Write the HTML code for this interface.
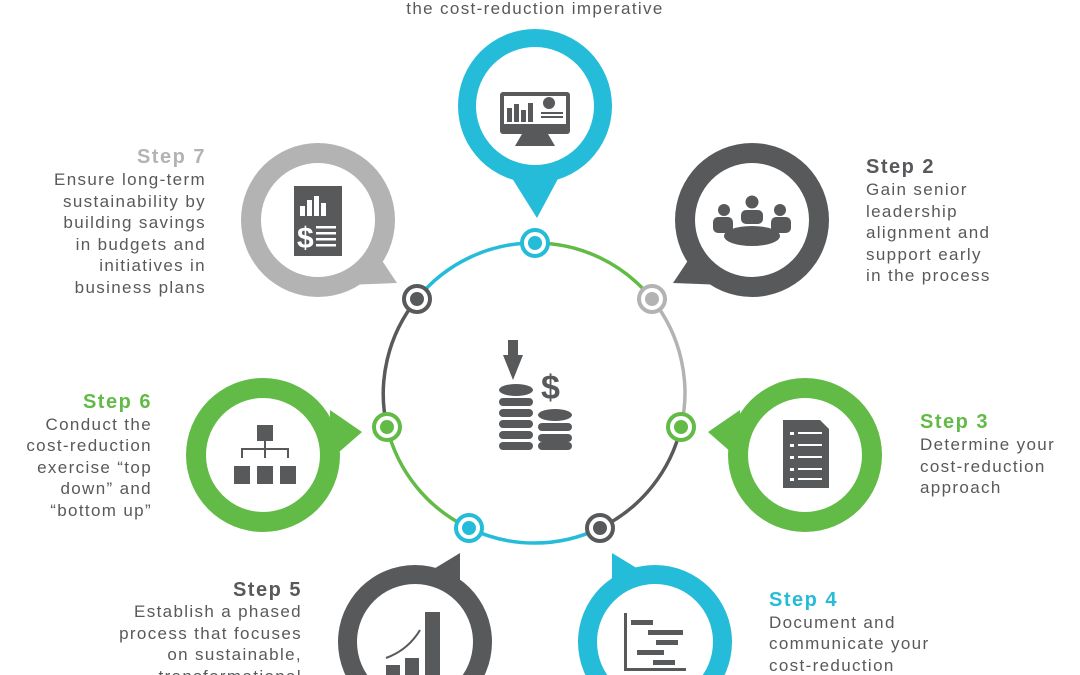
<!DOCTYPE html>
<html><head><meta charset="utf-8"><style>
html,body{margin:0;background:#fff;width:1080px;height:675px;overflow:hidden;}
svg{display:block}
text{font-family:"Liberation Sans",sans-serif;font-size:17px;fill:#58595b;letter-spacing:1.35px}
.b{font-weight:bold;font-size:20px;letter-spacing:1.5px}
</style></head><body>
<svg width="1080" height="675" viewBox="0 0 1080 675" overflow="hidden">
<g fill="none" stroke-width="3.5">
<path d="M535 243 A150 150 0 0 1 652 299" stroke="#62bb46"/>
<path d="M652 299 A150 150 0 0 1 681 427" stroke="#b3b3b3"/>
<path d="M681 427 A150 150 0 0 1 600 528" stroke="#58595b"/>
<path d="M600 528 A150 150 0 0 1 469 528" stroke="#25bcd9"/>
<path d="M469 528 A150 150 0 0 1 387 427" stroke="#62bb46"/>
<path d="M387 427 A150 150 0 0 1 417 299" stroke="#58595b"/>
<path d="M417 299 A150 150 0 0 1 535 243" stroke="#25bcd9"/>
</g>
<g stroke-width="4" fill="#fff">
<circle cx="535" cy="243" r="13" stroke="#25bcd9"/><circle cx="535" cy="243" r="7" fill="#25bcd9" stroke="none"/>
<circle cx="652" cy="299" r="13" stroke="#b3b3b3"/><circle cx="652" cy="299" r="7" fill="#b3b3b3" stroke="none"/>
<circle cx="681" cy="427" r="13" stroke="#62bb46"/><circle cx="681" cy="427" r="7" fill="#62bb46" stroke="none"/>
<circle cx="600" cy="528" r="13" stroke="#58595b"/><circle cx="600" cy="528" r="7" fill="#58595b" stroke="none"/>
<circle cx="469" cy="528" r="13" stroke="#25bcd9"/><circle cx="469" cy="528" r="7" fill="#25bcd9" stroke="none"/>
<circle cx="387" cy="427" r="13" stroke="#62bb46"/><circle cx="387" cy="427" r="7" fill="#62bb46" stroke="none"/>
<circle cx="417" cy="299" r="13" stroke="#58595b"/><circle cx="417" cy="299" r="7" fill="#58595b" stroke="none"/>
</g>
<g>
<polygon points="510,175 560,175 537,218" fill="#25bcd9"/>
<circle cx="535" cy="106" r="77" fill="#25bcd9"/><circle cx="535" cy="106" r="59" fill="#fff"/>
<polygon points="695,250 725,285 673,283" fill="#58595b"/>
<circle cx="752" cy="220" r="77" fill="#58595b"/><circle cx="752" cy="220" r="57" fill="#fff"/>
<polygon points="375,250 345,285 397,283" fill="#b3b3b3"/>
<circle cx="318" cy="220" r="77" fill="#b3b3b3"/><circle cx="318" cy="220" r="57" fill="#fff"/>
<polygon points="740,410 740,460 708,432" fill="#62bb46"/>
<circle cx="805" cy="455" r="77" fill="#62bb46"/><circle cx="805" cy="455" r="57" fill="#fff"/>
<polygon points="330,410 330,460 362,432" fill="#62bb46"/>
<circle cx="263" cy="455" r="77" fill="#62bb46"/><circle cx="263" cy="455" r="57" fill="#fff"/>
<polygon points="612,553 640,570 612,590" fill="#25bcd9"/>
<circle cx="655" cy="642" r="77" fill="#25bcd9"/><circle cx="655" cy="642" r="58" fill="#fff"/>
<polygon points="460,553 432,570 460,590" fill="#58595b"/>
<circle cx="415" cy="642" r="77" fill="#58595b"/><circle cx="415" cy="642" r="58" fill="#fff"/>
</g>
<g fill="#58595b">
<rect x="500" y="92" width="70" height="42" rx="3"/><rect x="504" y="96" width="62" height="28" fill="#fff"/>
<rect x="507" y="108" width="5" height="14"/><rect x="514" y="104" width="5" height="18"/><rect x="521" y="110" width="5" height="12"/><rect x="528" y="103" width="5" height="19"/>
<circle cx="549" cy="103" r="6"/><rect x="541" y="112" width="22" height="2"/><rect x="541" y="116" width="22" height="2"/>
<polygon points="522,134 548,134 555,146 515,146"/>
<ellipse cx="752" cy="236" rx="28" ry="10"/><circle cx="752" cy="202" r="6.5"/><rect x="741" y="210" width="22" height="14" rx="5"/>
<circle cx="724" cy="210" r="6"/><rect x="713" y="217" width="20" height="16" rx="5"/>
<circle cx="780" cy="210" r="6"/><rect x="771" y="217" width="20" height="16" rx="5"/>
<rect x="294" y="186" width="48" height="70"/>
<rect x="300" y="206" width="5" height="10" fill="#fff"/><rect x="307" y="200" width="5" height="16" fill="#fff"/><rect x="314" y="196" width="5" height="20" fill="#fff"/><rect x="321" y="203" width="5" height="13" fill="#fff"/>
<text x="297" y="248" style="fill:#fff;font-size:30px;font-weight:bold;letter-spacing:0">$</text>
<rect x="316" y="226" width="20" height="2.5" fill="#fff"/><rect x="316" y="232" width="20" height="2.5" fill="#fff"/><rect x="316" y="238" width="20" height="2.5" fill="#fff"/><rect x="316" y="244" width="20" height="2.5" fill="#fff"/>
<polygon points="783,420 820,420 829,429 829,488 783,488"/>
<g fill="#fff"><rect x="790" y="432" width="4" height="3"/><rect x="798" y="432" width="24" height="2"/><rect x="790" y="444" width="4" height="3"/><rect x="798" y="444" width="24" height="2"/><rect x="790" y="456" width="4" height="3"/><rect x="798" y="456" width="24" height="2"/><rect x="790" y="468" width="4" height="3"/><rect x="798" y="468" width="24" height="2"/><rect x="790" y="478" width="4" height="3"/><rect x="798" y="478" width="24" height="2"/></g>
<rect x="257" y="425" width="16" height="16"/>
<rect x="264" y="441" width="2" height="8"/><rect x="241" y="448" width="48" height="2"/>
<rect x="241" y="448" width="2" height="10"/><rect x="264" y="448" width="2" height="10"/><rect x="287" y="448" width="2" height="10"/>
<rect x="234" y="466" width="16" height="18"/><rect x="257" y="466" width="16" height="18"/><rect x="280" y="466" width="16" height="18"/>
<rect x="624" y="613" width="3" height="58"/><rect x="624" y="668" width="62" height="3"/>
<rect x="631" y="620" width="22" height="5"/><rect x="648" y="630" width="35" height="5"/><rect x="656" y="640" width="22" height="5"/><rect x="637" y="650" width="27" height="5"/><rect x="653" y="660" width="22" height="5"/>
<rect x="386" y="665" width="14" height="10"/><rect x="405" y="658" width="14" height="17"/><rect x="425" y="612" width="15" height="63"/>
<path d="M386 658 Q408 650 420 630" stroke="#58595b" stroke-width="2" fill="none"/>
<rect x="508" y="340" width="10" height="16"/><polygon points="503,355 523,355 513,380"/>
<ellipse cx="516" cy="390" rx="17" ry="6"/><rect x="499" y="398" width="34" height="8" rx="4"/><rect x="499" y="409" width="34" height="8" rx="4"/><rect x="499" y="420" width="34" height="8" rx="4"/><rect x="499" y="431" width="34" height="8" rx="4"/><rect x="499" y="442" width="34" height="8" rx="4"/>
<ellipse cx="555" cy="415" rx="17" ry="6"/><rect x="538" y="423" width="34" height="8" rx="4"/><rect x="538" y="434" width="34" height="8" rx="4"/><rect x="538" y="442" width="34" height="8" rx="4"/>
<text x="541" y="399" style="font-size:34px;font-weight:bold;letter-spacing:0">$</text>
</g>
<text x="535" y="14" text-anchor="middle">the cost-reduction imperative</text>
<g text-anchor="end">
<text x="206" y="163" class="b" style="fill:#b3b3b3">Step 7</text>
<text x="206" y="185">Ensure long-term</text><text x="206" y="207">sustainability by</text><text x="206" y="228">building savings</text><text x="206" y="250">in budgets and</text><text x="206" y="271">initiatives in</text><text x="206" y="293">business plans</text>
<text x="152" y="408" class="b" style="fill:#62bb46">Step 6</text>
<text x="152" y="430">Conduct the</text><text x="152" y="451">cost-reduction</text><text x="152" y="473">exercise “top</text><text x="152" y="494">down” and</text><text x="152" y="516">“bottom up”</text>
<text x="302" y="596" class="b">Step 5</text>
<text x="302" y="617">Establish a phased</text><text x="302" y="639">process that focuses</text><text x="302" y="660">on sustainable,</text><text x="302" y="682">transformational</text>
</g>
<text x="866" y="173" class="b">Step 2</text>
<text x="866" y="195">Gain senior</text><text x="866" y="217">leadership</text><text x="866" y="238">alignment and</text><text x="866" y="260">support early</text><text x="866" y="281">in the process</text>
<text x="920" y="428" class="b" style="fill:#62bb46">Step 3</text>
<text x="920" y="450">Determine your</text><text x="920" y="472">cost-reduction</text><text x="920" y="493">approach</text>
<text x="769" y="606" class="b" style="fill:#25bcd9">Step 4</text>
<text x="769" y="628">Document and</text><text x="769" y="649">communicate your</text><text x="769" y="671">cost-reduction</text>
</svg>
</body></html>
